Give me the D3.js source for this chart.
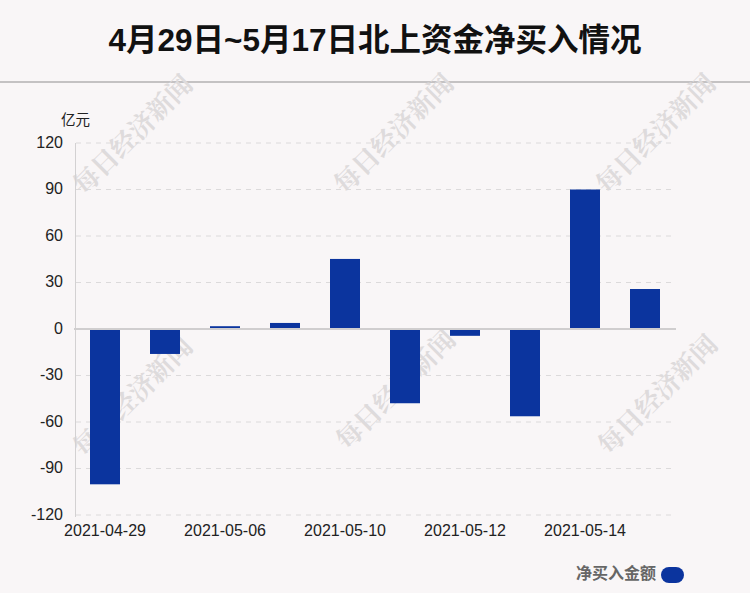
<!DOCTYPE html>
<html><head><meta charset="utf-8">
<script src="https://cdn.jsdelivr.net/npm/d3@7"></script>
<style>
html,body{margin:0;padding:0;background:#f9f6f7;}
svg{display:block;}
</style></head>
<body>
<script>
const categories = ["2021-04-29","2021-04-30","2021-05-06","2021-05-07","2021-05-10","2021-05-11","2021-05-12","2021-05-13","2021-05-14","2021-05-17"];
const netBuy = [-100.2, -16.1, 1.8, 3.9, 45.2, -47.9, -4.4, -56.3, 90.0, 25.8];
const yTicks = [120, 90, 60, 30, 0, -30, -60, -90, -120];
const xTickLabels = ["2021-04-29","2021-05-06","2021-05-10","2021-05-12","2021-05-14"];
const titleText = "4月29日~5月17日北上资金净买入情况";
const unitText = "亿元";
const legendText = "净买入金额";
const watermark = "每日经济新闻";

const W = 750, H = 593;
const svg = d3.select("body").append("svg").attr("width", W).attr("height", H);
svg.append("rect").attr("width", W).attr("height", H).attr("fill", "#f9f6f7");

const font = "'Liberation Sans', Arial, 'Noto Sans CJK SC', sans-serif";

// title
svg.append("text").attr("x", 375).attr("y", 51).attr("text-anchor", "middle")
  .attr("font-family", "'Liberation Sans', 'Noto Sans CJK SC', sans-serif")
  .attr("font-weight", "bold").attr("font-size", 31.5).attr("fill", "#111")
  .text(titleText);
svg.append("line").attr("x1", 0).attr("x2", W).attr("y1", 82).attr("y2", 82)
  .attr("stroke", "#c4c2c3").attr("stroke-width", 2);

// watermarks
const wmPos = [[131,133],[392,132],[654,132],[131,395],[394,388],[656,393]];
svg.append("g").selectAll("text").data(wmPos).join("text")
  .attr("transform", d => `translate(${d[0]},${d[1]}) rotate(-45)`)
  .attr("text-anchor", "middle").attr("dominant-baseline", "central")
  .attr("font-family", "'Noto Serif CJK SC','Noto Sans CJK SC', serif")
  .attr("font-weight", "bold").attr("font-size", 26)
  .attr("fill", "#dedbdc")
  .text(watermark);

const x = d3.scaleBand().domain(categories).range([75, 675]).paddingInner(0.5).paddingOuter(0.25);
const y = d3.scaleLinear().domain([-120, 120]).range([515, 143]);

// gridlines
svg.append("g").selectAll("line").data(yTicks.filter(t => t !== 0)).join("line")
  .attr("x1", 76).attr("x2", 672).attr("y1", d => y(d)).attr("y2", d => y(d))
  .attr("stroke", "#dcdadb").attr("stroke-dasharray", "5,5").attr("stroke-width", 1);

// y axis line
svg.append("line").attr("x1", 75.5).attr("x2", 75.5).attr("y1", y(120)).attr("y2", y(-120) + 2)
  .attr("stroke", "#d3d1d2").attr("stroke-width", 1);

// y ticks
const yAxis = d3.axisLeft(y).tickValues(yTicks).tickSize(0).tickPadding(12).tickFormat(d => String(d));
const gy = svg.append("g").attr("transform", "translate(75,0)").call(yAxis);
gy.select(".domain").remove();
gy.selectAll("text").attr("font-family", font).attr("font-size", 16).attr("fill", "#222").attr("dy", "0.25em");

svg.append("text").attr("x", 61).attr("y", 125).attr("font-family", "'Noto Sans CJK SC', sans-serif")
  .attr("font-size", 14.5).attr("fill", "#222").text(unitText);

// bars
svg.append("g").selectAll("rect").data(categories).join("rect")
  .attr("x", d => x(d)).attr("width", x.bandwidth())
  .attr("y", (d, i) => y(Math.max(0, netBuy[i])))
  .attr("height", (d, i) => Math.abs(y(netBuy[i]) - y(0)))
  .attr("fill", "#0b349e");

// zero line
svg.append("line").attr("x1", 74).attr("x2", 676).attr("y1", y(0)).attr("y2", y(0))
  .attr("stroke", "#d0cecf").attr("stroke-width", 2);

// x axis labels
const xAxis = d3.axisBottom(x).tickValues(xTickLabels).tickSize(0).tickPadding(10);
const gx = svg.append("g").attr("transform", `translate(0,${y(-120)})`).call(xAxis);
gx.select(".domain").remove();
gx.selectAll("text").attr("font-family", font).attr("font-size", 16).attr("fill", "#222");

// legend
svg.append("text").attr("x", 656).attr("y", 579).attr("text-anchor", "end")
  .attr("font-family", "'Noto Sans CJK SC', sans-serif").attr("font-weight", "bold")
  .attr("font-size", 16).attr("fill", "#666").text(legendText);
svg.append("rect").attr("x", 661).attr("y", 567).attr("width", 23).attr("height", 16)
  .attr("rx", 8).attr("ry", 8).attr("fill", "#0b349e");
</script>
</body></html>
